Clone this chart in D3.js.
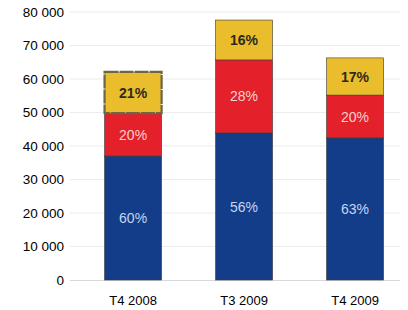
<!DOCTYPE html>
<html><head><meta charset="utf-8">
<script src="https://cdn.jsdelivr.net/npm/d3@7"></script>
<style>body{margin:0;background:#fff}svg{display:block}</style>
</head><body>
<svg id="c" width="408" height="310"></svg>
<script>
const categories = ["T4 2008", "T3 2009", "T4 2009"];
const blueValues = [37000, 43900, 42400];
const redValues = [12800, 21800, 12800];
const yellowValues = [12300, 11900, 11100];
const bluePct = ["60%", "56%", "63%"];
const redPct = ["20%", "28%", "20%"];
const yellowPct = ["21%", "16%", "17%"];
const yTicks = [0, 10000, 20000, 30000, 40000, 50000, 60000, 70000, 80000];

const svg = d3.select("#c");
const y = d3.scaleLinear().domain([0, 80000]).range([280, 12]);
const x = d3.scaleBand().domain(categories).range([72, 400]).paddingInner(0.486).paddingOuter(0.2205).align(0.665);

// gridlines
svg.append("g").selectAll("line").data(yTicks.slice(1)).join("line")
  .attr("x1", 70).attr("x2", 400).attr("y1", d => y(d)).attr("y2", d => y(d))
  .attr("stroke", "#ececec").attr("stroke-width", 1);

// y axis labels
const yAxis = d3.axisLeft(y).tickValues(yTicks).tickSize(0).tickPadding(0)
  .tickFormat(d => d3.format(",")(d).replace(/,/g, " "));
const ga = svg.append("g").attr("transform", "translate(64,0)").call(yAxis);
ga.select(".domain").remove();
ga.selectAll("text").attr("font-family", "Liberation Sans, Arial, sans-serif")
  .attr("font-size", 13.5).attr("fill", "#000");

// baseline
svg.append("line").attr("x1", 70).attr("x2", 400).attr("y1", y(0)+0.5).attr("y2", y(0)+0.5)
  .attr("stroke", "#d8d8d8");

const stacks = categories.map((c, i) => ({
  c, i,
  segs: [
    {k: "blue", y0: 0, y1: blueValues[i], label: bluePct[i]},
    {k: "red", y0: blueValues[i], y1: blueValues[i] + redValues[i], label: redPct[i]},
    {k: "yellow", y0: blueValues[i] + redValues[i], y1: blueValues[i] + redValues[i] + yellowValues[i], label: yellowPct[i]}
  ]
}));
const fill = {blue: "#133d88", red: "#e4202a", yellow: "#eabd2c"};
const txt = {blue: "#c4d6f2", red: "#f6d2d0", yellow: "#2d2a1c"};

const g = svg.append("g");
stacks.forEach(s => {
  s.segs.forEach(seg => {
    const isSel = s.i === 0 && seg.k === "yellow";
    g.append("rect")
      .attr("x", x(s.c)).attr("width", x.bandwidth())
      .attr("y", y(seg.y1)).attr("height", y(seg.y0) - y(seg.y1))
      .attr("fill", fill[seg.k])
      .attr("stroke", isSel ? "#6e6546" : "#3a3a3a")
      .attr("stroke-width", isSel ? 2.2 : 0.6)
      .attr("stroke-dasharray", isSel ? "14 1" : null);
    g.append("text")
      .attr("x", x(s.c) + x.bandwidth()/2)
      .attr("y", (y(seg.y0) + y(seg.y1))/2)
      .attr("dy", "0.36em")
      .attr("text-anchor", "middle")
      .attr("font-family", "Liberation Sans, Arial, sans-serif")
      .attr("font-size", 14)
      .attr("font-weight", seg.k === "yellow" ? "bold" : "normal")
      .attr("fill", txt[seg.k])
      .text(seg.label);
  });
});

// x labels
svg.append("g").selectAll("text").data(categories).join("text")
  .attr("x", d => x(d) + x.bandwidth()/2).attr("y", 305)
  .attr("text-anchor", "middle")
  .attr("font-family", "Liberation Sans, Arial, sans-serif")
  .attr("font-size", 13).attr("fill", "#000")
  .text(d => d);
</script>
</body></html>
